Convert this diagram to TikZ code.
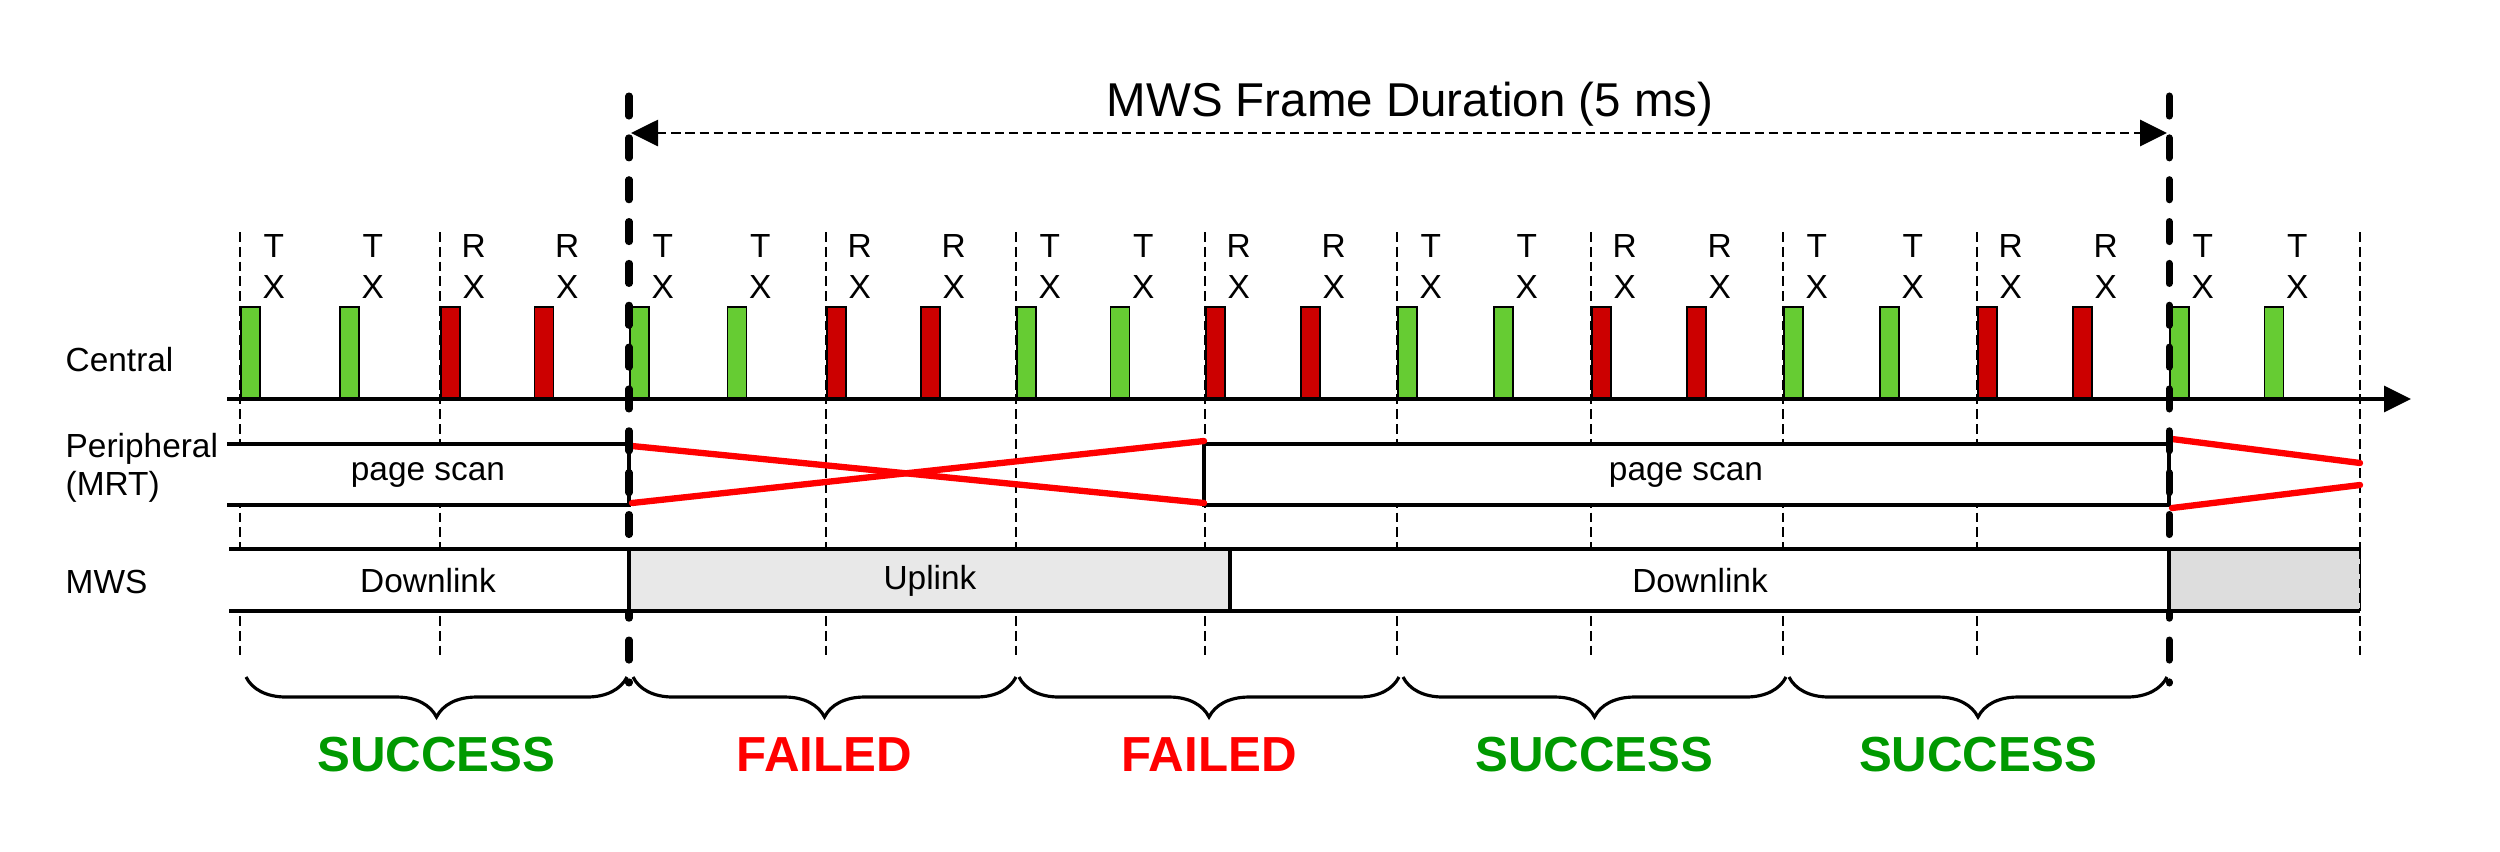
\documentclass[tikz,border=0pt]{standalone}
\usepackage{fontspec}
\setmainfont{Liberation Sans}
\usepackage{xcolor}
\usetikzlibrary{arrows.meta, decorations.pathreplacing, calc}
\definecolor{txgreen}{HTML}{66CC33}
\definecolor{rxred}{HTML}{CC0000}
\definecolor{okgreen}{HTML}{009900}
\definecolor{uplinkgray}{HTML}{E8E8E8}
\definecolor{idlegray}{HTML}{DDDDDD}

\begin{document}
\begin{tikzpicture}[
    x=0.01cm, y=-0.01cm,
    >={Triangle[length=0.27cm, width=0.26cm]},
    lbl/.style={font=\fontsize{9.5}{11.6}\selectfont, inner sep=0pt, align=center},
    rowname/.style={font=\fontsize{9.5}{11}\selectfont, inner sep=0pt, anchor=west, align=left},
    slotline/.style={dash pattern=on 2.8pt off 1.4pt, line width=0.45pt},
    framemark/.style={line width=2pt, dash pattern=on 5.7pt off 6.2pt, line cap=round},
    txbar/.style={draw, line width=0.5pt, fill=txgreen, inner sep=0pt, anchor=south west, minimum width=0.19cm, minimum height=0.91cm},
    rxbar/.style={txbar, fill=rxred},
    band/.style={line width=0.9pt},
    cross/.style={red, line width=1.8pt, line cap=round},
    timebrace/.style={decorate, decoration={brace, mirror, amplitude=0.4cm}, line width=0.9pt},
    outcome/.style={font=\bfseries\fontsize{14}{16}\selectfont, inner sep=0pt}
]
\useasboundingbox (0,0) rectangle (2500,851);

\foreach \xs in {240,440,826,1016,1205,1397,1591,1783,1977,2360}
    \draw[slotline] (\xs,232) -- (\xs,658);

\foreach \xa/\xb/\kind/\dir [count=\i] in {240/440/txbar/T, 440/629/rxbar/R, 629/826/txbar/T, 826/1016/rxbar/R, 1016/1205/txbar/T, 1205/1397/rxbar/R, 1397/1591/txbar/T, 1591/1783/rxbar/R, 1783/1977/txbar/T, 1977/2169/rxbar/R, 2169/2360/txbar/T} {
    \pgfmathsetmacro{\xm}{(\xa+\xb)/2-1}
    \node[\kind] (bar\i a) at (\xa,399) {};
    \node[\kind] (bar\i b) at (\xm,399) {};
    \node[lbl] (lab\i a) at ($(bar\i a.north east)+(13,-40)$) {\dir\\X};
    \node[lbl] (lab\i b) at ($(bar\i b.north east)+(13,-40)$) {\dir\\X};
}

\coordinate (axstart) at (227,399);
\coordinate (axend) at (2411,399);
\draw[band, ->] (axstart) -- (axend);

\node[rowname] (central) at (65,360) {Central};
\node[rowname] (periph) at (65,468) {Peripheral\\(MRT)};
\node[rowname] (mws) at (65,582) {MWS};

\fill[white] (227,444) rectangle (629,505);
\draw[band] (227,444) -- (629,444) -- (629,505) -- (227,505);
\node[lbl] (scan1) at (428,475) {page scan};
\draw[band, fill=white] (1204,444) rectangle (2169,505);
\node[lbl] (scan2) at (1686,475) {page scan};

\draw[cross] (632,446) -- (1204,503);
\draw[cross] (632,503) -- (1204,441);
\draw[cross] (2172,439) -- (2360,463);
\draw[cross] (2172,508) -- (2360,485);

\draw[framemark] (629,96) -- (629,683);
\draw[framemark] (2169,96) -- (2169,683);

\fill[white] (229,549) rectangle (629,611);
\draw[band] (229,549) -- (629,549) (229,611) -- (629,611);
\draw[band, fill=uplinkgray] (629,549) rectangle (1230,611);
\draw[band, fill=white] (1230,549) rectangle (2169,611);
\fill[idlegray] (2169,549) rectangle (2360,611);
\draw[band] (2360,549) -- (2169,549) -- (2169,611) -- (2360,611);
\draw[slotline] (2360,549) -- (2360,611);
\node[lbl] (down1) at (428,581) {Downlink};
\node[lbl] (uplink) at (930,581) {Uplink};
\node[lbl] (down2) at (1700,581) {Downlink};

\foreach \xa/\xb/\res/\col [count=\i] in {246/627/SUCCESS/okgreen, 633/1016/FAILED/red, 1019/1399/FAILED/red, 1403/1786/SUCCESS/okgreen, 1789/2167/SUCCESS/okgreen} {
    \draw[timebrace] (\xa,677) -- (\xb,677);
    \node[outcome, text=\col] (res\i) at ({(\xa+\xb)/2},755) {\res};
}

\coordinate (fstart) at (631,133);
\coordinate (fend) at (2167,133);
\node[font=\fontsize{13.5}{16}\selectfont, inner sep=0pt, anchor=base] (title) at (1410,116) {MWS Frame Duration (5 ms)};
\draw[line width=0.8pt, dash pattern=on 2.6pt off 1.4pt, <->] (fstart) -- (fend);

\end{tikzpicture}
\end{document}
